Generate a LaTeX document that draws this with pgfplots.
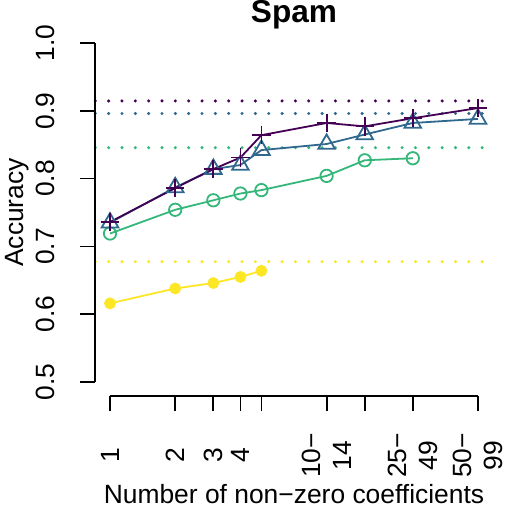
\documentclass[border=0pt]{standalone}
\usepackage{fontspec}
\setmainfont{Liberation Sans}
\usepackage{pgfplots}
\pgfplotsset{compat=1.18}
\definecolor{vir1}{HTML}{440154}
\definecolor{vir2}{HTML}{31688E}
\definecolor{vir3}{HTML}{35B779}
\definecolor{vir4}{HTML}{FDE725}
\newcommand{\rfont}{\fontsize{13.2}{15.2}\selectfont}
\begin{document}
\begin{tikzpicture}
\useasboundingbox (-47.65pt,-63.7pt) rectangle (213.85pt,197.8pt);
\begin{axis}[
    scale only axis,
    width=198.7pt, height=183.1pt,
    at={(0,0)}, anchor=south west,
    xmode=log,
    xmin=0.8551, xmax=58.47,
    ymin=0.48, ymax=1.02,
    separate axis lines,
    axis x line*=bottom, axis y line*=left,
    axis line style={draw=none},
    tick align=outside,
    major tick length=7.9pt,
    tick style={black, line width=0.9pt},
    minor tick num=0,
    xtick={1,2,3,4,5,10,15,25,50},
    xticklabels={1,2,3,4,,{10−\\14},,{25−\\49},{50−\\99}},
    ytick={0.5,0.6,0.7,0.8,0.9,1.0},
    yticklabels={0.5,0.6,0.7,0.8,0.9,1.0},
    xticklabel style={font=\rfont, rotate=90, anchor=center, align=center, inner sep=0pt},
    yticklabel style={font=\rfont, rotate=90, anchor=center, inner sep=0pt},
    xticklabel shift=22pt,
    yticklabel shift=17pt,
    xlabel={Number of non−zero coefficients},
    ylabel={Accuracy},
    xlabel style={font=\rfont, at={(axis description cs:0.5,-0.296)}, anchor=base, inner sep=0pt},
    ylabel style={font=\rfont, at={(axis description cs:-0.197,0.5)}, anchor=center, inner sep=0pt},
    title={\bfseries Spam},
    title style={font=\fontsize{15.8}{18}\selectfont, at={(axis description cs:0.5,1.0175)}, anchor=base, yshift=-6pt, inner sep=0pt},
    clip=false,
    every axis plot/.append style={line width=0.9pt},
]
% dotted reference levels
\addplot[vir1, line width=1.7pt, line cap=round, dash pattern=on 0pt off 6.67pt] coordinates {(0.8551,0.9145) (58.47,0.9145)};
\addplot[vir2, line width=1.7pt, line cap=round, dash pattern=on 0pt off 6.67pt] coordinates {(0.8551,0.896) (58.47,0.896)};
\addplot[vir3, line width=1.7pt, line cap=round, dash pattern=on 0pt off 6.67pt] coordinates {(0.8551,0.8456) (58.47,0.8456)};
\addplot[vir4, line width=1.7pt, line cap=round, dash pattern=on 0pt off 6.67pt] coordinates {(0.8551,0.6775) (58.47,0.6775)};
% series
\addplot[vir4, mark=*, mark size=2.5pt, mark options={fill=vir4, draw=vir4}] coordinates {
    (1,0.616) (2,0.638) (3,0.646) (4,0.655) (5,0.664)
};
\addplot[vir3, mark=o, mark size=3.1pt] coordinates {
    (1,0.719) (2,0.754) (3,0.768) (4,0.778) (5,0.783) (10,0.804) (15,0.827) (25,0.830)
};
\addplot[vir2, mark=triangle, mark size=4.8pt] coordinates {
    (1,0.735) (2,0.787) (3,0.814) (4,0.820) (5,0.842) (10,0.851) (15,0.865) (25,0.882) (50,0.888)
};
\addplot[vir1, mark=+, mark size=4.6pt] coordinates {
    (1,0.736) (2,0.786) (3,0.814) (4,0.831) (5,0.864) (10,0.882) (15,0.877) (25,0.889) (50,0.904)
};
\draw[black, line width=0.9pt] (axis cs:1,0.48) -- (axis cs:50,0.48);
\draw[black, line width=0.9pt] (axis cs:0.8551,0.5) -- (axis cs:0.8551,1.0);
\end{axis}
\end{tikzpicture}
\end{document}
